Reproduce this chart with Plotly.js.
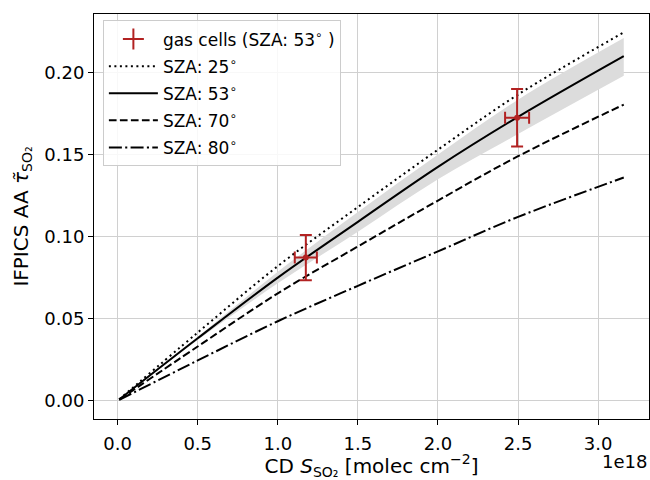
<!DOCTYPE html>
<html>
<head>
<meta charset="utf-8">
<script src="https://cdn.plot.ly/plotly-3.0.1.min.js"></script>
<style>html,body{margin:0;padding:0;background:#fff;}#chart{width:650px;height:480px;}</style>
</head>
<body>
<div id="chart"></div>
<script>
// Column density of SO2 [molec cm^-2]
var xModel = [0.01e18, 0.5e18, 1.0e18, 1.5e18, 2.0e18, 2.5e18, 3.16e18];
var sza25 = [0.0008, 0.0415, 0.082, 0.118, 0.153, 0.1866, 0.2245];
var sza53 = [0.0007, 0.038, 0.075, 0.109, 0.1425, 0.173, 0.210];
var sza53Low = [0.0007, 0.037, 0.0715, 0.103, 0.1349, 0.1625, 0.198];
var sza53High = [0.0007, 0.039, 0.0785, 0.115, 0.150, 0.1835, 0.221];
var sza70 = [0.0006, 0.033, 0.0654, 0.094, 0.122, 0.149, 0.1805];
var sza80 = [0.0005, 0.0245, 0.0484, 0.070, 0.091, 0.112, 0.136];

var gasX = [1.175e18, 2.494e18];
var gasY = [0.0872, 0.1725];
var gasXErr = [0.069e18, 0.075e18];
var gasYErr = [0.0138, 0.0175];

var xTickVals = [0, 0.5e18, 1.0e18, 1.5e18, 2.0e18, 2.5e18, 3.0e18];
var xTickText = ['0.0', '0.5', '1.0', '1.5', '2.0', '2.5', '3.0'];
var yTickVals = [0, 0.05, 0.10, 0.15, 0.20];

var deg = '<sup>∘</sup>';
var lw = 2;
var traces = [
  {x: xModel, y: sza53Low, mode: 'lines', line: {width: 0, color: 'rgba(0,0,0,0)', shape: 'spline'}, showlegend: false, hoverinfo: 'skip'},
  {x: xModel, y: sza53High, mode: 'lines', fill: 'tonexty', fillcolor: '#dcdcdc', line: {width: 0, color: 'rgba(0,0,0,0)', shape: 'spline'}, showlegend: false, hoverinfo: 'skip'},
  {x: xModel, y: sza25, mode: 'lines', name: 'SZA: 25' + deg, legendgroup: 'g2', legendrank: 2, line: {color: 'black', width: lw, dash: '2px,3.5px', shape: 'spline'}},
  {x: xModel, y: sza53, mode: 'lines', name: 'SZA: 53' + deg, legendgroup: 'g3', legendrank: 3, line: {color: 'black', width: lw, shape: 'spline'}},
  {x: xModel, y: sza70, mode: 'lines', name: 'SZA: 70' + deg, legendgroup: 'g4', legendrank: 4, line: {color: 'black', width: lw, dash: '7.7px,3.3px', shape: 'spline'}},
  {x: xModel, y: sza80, mode: 'lines', name: 'SZA: 80' + deg, legendgroup: 'g5', legendrank: 5, line: {color: 'black', width: lw, dash: '13px,3.3px,2.1px,3.3px', shape: 'spline'}},
  {x: gasX, y: gasY, mode: 'markers', showlegend: false,
   marker: {color: '#b22222', size: 6},
   error_x: {type: 'data', array: gasXErr, visible: true, color: '#b22222', thickness: 2, width: 6},
   error_y: {type: 'data', array: gasYErr, visible: true, color: '#b22222', thickness: 2, width: 6}},
  {x: [null], y: [null], mode: 'markers', name: 'gas cells (SZA: 53' + deg + ' )', legendgroup: 'g1', legendrank: 1,
   marker: {color: '#b22222', size: 15, symbol: 'cross-thin', line: {color: '#b22222', width: 2}}}
];

var axisCommon = {
  showline: true, mirror: true, linecolor: 'black', linewidth: 1,
  ticks: 'outside', ticklen: 5, tickwidth: 1, tickcolor: 'black',
  showgrid: true, gridcolor: '#d0d0d0', gridwidth: 1, zeroline: false,
  tickfont: {size: 18, color: 'black'}
};

var layout = {
  width: 650, height: 480,
  margin: {l: 94, r: 1, t: 14, b: 61},
  paper_bgcolor: 'white', plot_bgcolor: 'white',
  font: {family: 'DejaVu Sans', color: 'black'},
  xaxis: Object.assign({}, axisCommon, {
    range: [-0.1475e18, 3.3175e18], tickmode: 'array', tickvals: xTickVals, ticktext: xTickText,
    ticklabelstandoff: 3,
    title: {text: 'CD <i>S</i><sub>SO₂</sub> [molec cm<sup>−2</sup>]', font: {size: 20}, standoff: 9}
  }),
  yaxis: Object.assign({}, axisCommon, {
    range: [-0.0112, 0.2357], tickmode: 'array', tickvals: yTickVals, tickformat: '.2f',
    title: {text: 'IFPICS AA <i>τ̃</i><sub>SO₂</sub>', font: {size: 20}, standoff: 10}
  }),
  legend: {
    x: 0.016, y: 0.984, xanchor: 'left', yanchor: 'top',
    bgcolor: 'rgba(255,255,255,0.85)', bordercolor: '#cccccc', borderwidth: 1,
    font: {size: 17, color: 'black'}, tracegroupgap: 2, itemwidth: 49
  },
  annotations: [
    {text: '1e18', xref: 'paper', yref: 'paper', x: 1.0, y: -0.105, xanchor: 'right', yanchor: 'middle',
     showarrow: false, font: {size: 18, color: 'black'}}
  ],
  showlegend: true
};

Plotly.newPlot('chart', traces, layout, {displayModeBar: false, staticPlot: true});
</script>
</body>
</html>
